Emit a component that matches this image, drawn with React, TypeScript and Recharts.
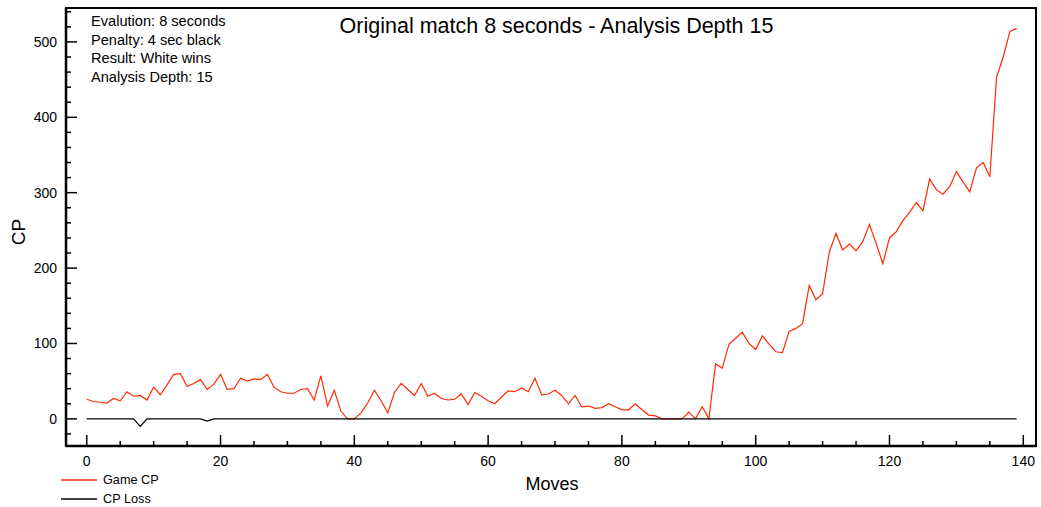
import {
  LineChart,
  Line,
  XAxis,
  YAxis,
  Legend,
  ReferenceArea,
} from "recharts";

const FONT = '"Liberation Sans", Arial, Helvetica, sans-serif';

// Centipawn evaluation per move
const gameCP = [
  26, 23, 22, 21, 27, 24, 36, 30, 31, 25,
  42, 32, 45, 59, 60, 43, 47, 52, 39, 46,
  59, 39, 40, 54, 50, 53, 52, 59, 42, 36,
  34, 34, 39, 40, 25, 57, 17, 38, 10, 0,
  0, 8, 21, 38, 24, 8, 35, 47, 39, 31,
  47, 30, 34, 27, 25, 26, 33, 19, 35, 30,
  24, 20, 29, 37, 36, 41, 36, 54, 32, 33,
  38, 31, 20, 31, 16, 17, 14, 15, 20, 16,
  12, 12, 20, 12, 5, 4, 0, 0, 0, 0,
  9, 0, 16, 0, 73, 67, 99, 107, 115, 100,
  92, 110, 99, 89, 88, 116, 120, 126, 177, 158,
  166, 221, 246, 224, 232, 223, 235, 258, 233, 206,
  240, 248, 263, 274, 287, 276, 318, 304, 298, 308,
  328, 314, 301, 333, 340, 321, 453, 480, 514, 518,
];

const cpLoss = [
  0, 0, 0, 0, 0, 0, 0, 0, -10, 0,
  0, 0, 0, 0, 0, 0, 0, 0, -3, 0,
  0, 0, 0, 0, 0, 0, 0, 0, 0, 0,
  0, 0, 0, 0, 0, 0, 0, 0, 0, 0,
  0, 0, 0, 0, 0, 0, 0, 0, 0, 0,
  0, 0, 0, 0, 0, 0, 0, 0, 0, 0,
  0, 0, 0, 0, 0, 0, 0, 0, 0, 0,
  0, 0, 0, 0, 0, 0, 0, 0, 0, 0,
  0, 0, 0, 0, 0, 0, 0, 0, 0, 0,
  0, 0, 0, 0, 0, 0, 0, 0, 0, 0,
  0, 0, 0, 0, 0, 0, 0, 0, 0, 0,
  0, 0, 0, 0, 0, 0, 0, 0, 0, 0,
  0, 0, 0, 0, 0, 0, 0, 0, 0, 0,
  0, 0, 0, 0, 0, 0, 0, 0, 0, 0,
];

const xTicks = [
  0, 5, 10, 15, 20, 25, 30, 35, 40, 45, 50, 55, 60, 65, 70,
  75, 80, 85, 90, 95, 100, 105, 110, 115, 120, 125, 130, 135, 140,
];
const yTicks = [
  -20, 0, 20, 40, 60, 80, 100, 120, 140, 160, 180, 200, 220, 240, 260,
  280, 300, 320, 340, 360, 380, 400, 420, 440, 460, 480, 500, 520, 540,
];

const infoLines = [
  "Evalution: 8 seconds",
  "Penalty: 4 sec black",
  "Result: White wins",
  "Analysis Depth: 15",
];

const legendOrder = ["Game CP", "CP Loss"];

const X_DOMAIN: [number, number] = [-3.1, 141.9];
const Y_DOMAIN: [number, number] = [-36, 545];

const data = gameCP.map((cp, i) => ({
  move: i,
  game: cp,
  loss: cpLoss[i],
}));

// ticks drawn inward from the axis line, labels only on majors
const XTick = (props: any) => {
  const { x, y, payload } = props;
  const major = payload.value % 20 === 0;
  return (
    <g>
      <line x1={x} x2={x} y1={y} y2={y - (major ? 11 : 5)} stroke="#000" strokeWidth={1.5} />
      {major && (
        <text x={x} y={y + 15} textAnchor="middle" dominantBaseline="central" fontSize={14} fontFamily={FONT} fill="#000">
          {payload.value}
        </text>
      )}
    </g>
  );
};

const YTick = (props: any) => {
  const { x, y, payload } = props;
  const major = payload.value % 100 === 0;
  return (
    <g>
      <line x1={x} x2={x + (major ? 11 : 5)} y1={y} y2={y} stroke="#000" strokeWidth={1.5} />
      {major && (
        <text x={x - 9} y={y} textAnchor="end" dominantBaseline="central" fontSize={14} fontFamily={FONT} fill="#000">
          {payload.value}
        </text>
      )}
    </g>
  );
};

const LegendBox = (props: any) => {
  const items = [...(props.payload || [])].sort(
    (a: any, b: any) => legendOrder.indexOf(a.value) - legendOrder.indexOf(b.value)
  );
  return (
    <div style={{ fontFamily: FONT, fontSize: 12.7, color: "#000" }}>
      {items.map((item: any) => (
        <div key={item.value} style={{ display: "flex", alignItems: "center", height: 19 }}>
          <svg width={36} height={4} style={{ marginRight: 6 }}>
            <line x1={0} x2={36} y1={2} y2={2} stroke={item.color} strokeWidth={1.5} />
          </svg>
          <span>{item.value}</span>
        </div>
      ))}
    </div>
  );
};

export default function App() {
  return (
    <div style={{ position: "absolute", left: 0, top: 0, width: 1041, height: 507, background: "#fff" }}>
      <LineChart
        width={1041}
        height={507}
        data={data}
        margin={{ top: 8, right: 5, bottom: 21, left: 6 }}
      >
        <ReferenceArea
          x1={X_DOMAIN[0]}
          x2={X_DOMAIN[1]}
          y1={Y_DOMAIN[0]}
          y2={Y_DOMAIN[1]}
          fill="none"
          stroke="#000"
          strokeWidth={2}
          ifOverflow="visible"
        />
        <XAxis
          type="number"
          dataKey="move"
          domain={X_DOMAIN}
          allowDataOverflow
          ticks={xTicks}
          interval={0}
          tickSize={0}
          tickMargin={0}
          tickLine={false}
          tick={<XTick />}
          height={40}
          axisLine={{ stroke: "#000", strokeWidth: 2.5 }}
          label={{
            content: () => (
              <text x={552} y={484} textAnchor="middle" dominantBaseline="central" fontSize={18} fontFamily={FONT} fill="#000">
                Moves
              </text>
            ),
          }}
        />
        <YAxis
          type="number"
          domain={Y_DOMAIN}
          allowDataOverflow
          ticks={yTicks}
          interval={0}
          tickSize={0}
          tickMargin={0}
          tickLine={false}
          tick={<YTick />}
          width={60}
          axisLine={{ stroke: "#000", strokeWidth: 2.5 }}
          label={{
            content: () => (
              <text
                x={18}
                y={232}
                transform="rotate(-90 18 232)"
                textAnchor="middle"
                dominantBaseline="central"
                fontSize={19}
                fontFamily={FONT}
                fill="#000"
              >
                CP
              </text>
            ),
          }}
        />
        <Line
          type="linear"
          dataKey="game"
          name="Game CP"
          stroke="#ff2a00"
          strokeWidth={1.2}
          dot={false}
          isAnimationActive={false}
        />
        <Line
          type="linear"
          dataKey="loss"
          name="CP Loss"
          stroke="#000"
          strokeWidth={1.2}
          dot={false}
          isAnimationActive={false}
        />
        <Legend
          layout="vertical"
          align="center"
          verticalAlign="middle"
          content={<LegendBox />}
          wrapperStyle={{ left: 61, top: 470, width: 150, height: 40 }}
        />
      </LineChart>
      <div
        style={{
          position: "absolute",
          left: 0,
          width: 1113,
          top: 14,
          textAlign: "center",
          fontFamily: FONT,
          fontSize: 21.5,
          color: "#000",
          whiteSpace: "nowrap",
        }}
      >
        Original match 8 seconds - Analysis Depth 15
      </div>
      <div
        style={{
          position: "absolute",
          left: 91,
          top: 12,
          fontFamily: FONT,
          fontSize: 14.6,
          lineHeight: "18.5px",
          color: "#000",
          whiteSpace: "nowrap",
        }}
      >
        {infoLines.map((line) => (
          <div key={line}>{line}</div>
        ))}
      </div>
    </div>
  );
}
